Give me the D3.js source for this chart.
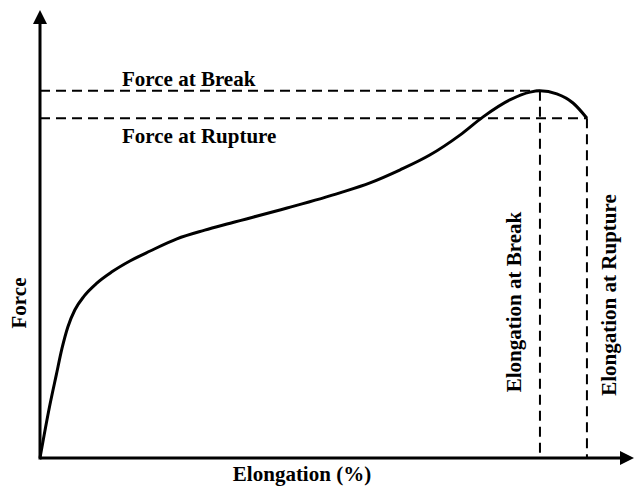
<!DOCTYPE html>
<html>
<head>
<meta charset="utf-8">
<script src="https://cdn.jsdelivr.net/npm/d3@7"></script>
<style>
  html, body { margin: 0; padding: 0; background: #fff; }
  svg { display: block; }
  text { font-family: "Liberation Serif", "Times New Roman", serif; font-weight: bold; fill: #000; }
</style>
</head>
<body>
<svg id="chart" width="635" height="491"></svg>
<script>
// Elongation (% of axis length) and force (% of axis height)
const elongation = [0, 1.7, 2.8, 3.8, 4.8, 6.0, 7.6, 9.8, 12.4, 15.5, 19.0, 23.6, 28.4, 32.8, 42.6, 51.7, 56.9, 62.1, 67.2, 72.4, 76.4, 81.0, 84.5, 86.2, 89.1, 91.9, 94.3];
const force      = [0, 12.2, 19.1, 25.3, 30.2, 34.1, 37.3, 40.3, 42.9, 45.4, 47.7, 50.5, 52.5, 54.1, 57.6, 61.1, 63.4, 66.4, 69.8, 74.4, 78.6, 82.5, 84.3, 84.6, 83.9, 81.8, 78.3];
const breakPoint   = { x: 86.2, y: 84.6 };
const rupturePoint = { x: 94.3, y: 78.3 };
const labels = {
  xAxis: "Elongation (%)",
  yAxis: "Force",
  forceBreak: "Force at Break",
  forceRupture: "Force at Rupture",
  elongBreak: "Elongation at Break",
  elongRupture: "Elongation at Rupture"
};

const svg = d3.select("#chart");
const x = d3.scaleLinear().domain([0, 100]).range([40, 620]);
const y = d3.scaleLinear().domain([0, 100]).range([458, 24]);

const defs = svg.append("defs");
defs.append("marker")
  .attr("id", "arrow")
  .attr("viewBox", "0 0 14 14")
  .attr("refX", 0).attr("refY", 7)
  .attr("markerUnits", "userSpaceOnUse")
  .attr("markerWidth", 14).attr("markerHeight", 14)
  .attr("orient", "auto")
  .append("path").attr("d", "M0,0L14,7L0,14Z").attr("fill", "#000");

// dashed reference lines
const dash = "10,6";
const refs = [
  [[0, breakPoint.y], [breakPoint.x, breakPoint.y]],
  [[0, rupturePoint.y], [rupturePoint.x, rupturePoint.y]],
  [[breakPoint.x, breakPoint.y], [breakPoint.x, 0]],
  [[rupturePoint.x, rupturePoint.y], [rupturePoint.x, 0]]
];
svg.append("g").selectAll("line").data(refs).join("line")
  .attr("x1", d => x(d[0][0])).attr("y1", d => y(d[0][1]))
  .attr("x2", d => x(d[1][0])).attr("y2", d => y(d[1][1]))
  .attr("stroke", "#000").attr("stroke-width", 2).attr("stroke-dasharray", dash);

// curve
const pts = elongation.map((e, i) => [e, force[i]]);
svg.append("path")
  .datum(pts)
  .attr("fill", "none").attr("stroke", "#000").attr("stroke-width", 3)
  .attr("stroke-linejoin", "round")
  .attr("d", d3.line().x(d => x(d[0])).y(d => y(d[1])).curve(d3.curveMonotoneX));

// axes
svg.append("line")
  .attr("x1", x(0)).attr("y1", y(0)).attr("x2", x(100)).attr("y2", y(0))
  .attr("stroke", "#000").attr("stroke-width", 3).attr("marker-end", "url(#arrow)");
svg.append("line")
  .attr("x1", x(0)).attr("y1", y(0) + 1.5).attr("x2", x(0)).attr("y2", y(100))
  .attr("stroke", "#000").attr("stroke-width", 3).attr("marker-end", "url(#arrow)");

const fs = 21;
svg.append("text").attr("x", 122).attr("y", y(breakPoint.y) - 5)
  .attr("font-size", fs).text(labels.forceBreak);
svg.append("text").attr("x", 122).attr("y", y(rupturePoint.y) + 25)
  .attr("font-size", fs).text(labels.forceRupture);
svg.append("text").attr("x", 302).attr("y", 481).attr("text-anchor", "middle")
  .attr("font-size", fs).text(labels.xAxis);
svg.append("text").attr("transform", "translate(26,303) rotate(-90)").attr("text-anchor", "middle")
  .attr("font-size", fs).text(labels.yAxis);
svg.append("text").attr("transform", `translate(${x(breakPoint.x) - 19},302) rotate(-90)`).attr("text-anchor", "middle")
  .attr("font-size", fs).text(labels.elongBreak);
svg.append("text").attr("transform", `translate(${x(rupturePoint.x) + 29},295) rotate(-90)`).attr("text-anchor", "middle")
  .attr("font-size", fs).text(labels.elongRupture);
</script>
</body>
</html>
